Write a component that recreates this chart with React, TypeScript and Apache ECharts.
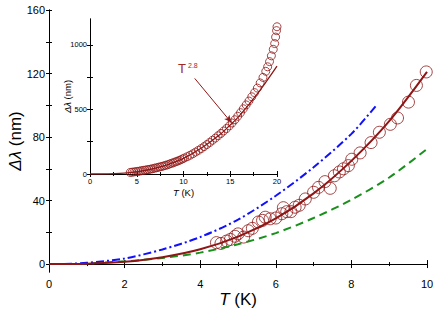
import React, { useEffect, useRef } from "react";
import * as echarts from "echarts";

// Main panel: measured points (T in K, Δλ in nm)
const mainT = [4.43, 4.55, 4.7, 4.8, 4.92, 5.0, 5.15, 5.27, 5.38, 5.54, 5.65, 5.72, 5.85, 6.0, 6.16, 6.2, 6.29, 6.4, 6.51, 6.62, 6.78, 7.0, 7.13, 7.3, 7.44, 7.55, 7.68, 7.79, 7.92, 8.01, 8.23, 8.52, 8.74, 9.03, 9.22, 9.51, 9.72, 9.98];
const mainDelta = [13.5, 13, 14.5, 15.5, 17.5, 19, 17, 21, 22.5, 26.5, 27.5, 29.5, 28.5, 29, 31.7, 35.5, 33, 33, 35.8, 37, 41, 45.2, 48.3, 51.9, 47.7, 55.6, 58, 60, 62, 66, 70, 76.5, 83, 88, 92, 102, 112.5, 121];

// Main panel: power-law fit (solid), and two model curves
const fitT = [0, 1, 2, 3, 4, 5, 6, 7, 8, 9, 10];
const fitDelta = [0, 0.2, 1.4, 4.3, 9.3, 17.3, 28.7, 44.5, 65, 90, 121];
const blueT = [0.4, 1, 2, 3, 4, 5, 6, 7, 8, 8.68];
const blueDelta = [0, 0.8, 3.5, 9.2, 17, 28, 43, 61, 82, 100.5];
const greenT = [0.8, 1, 2, 3, 4, 5, 6, 7, 8, 9, 10];
const greenDelta = [0, 0.3, 1.7, 3.8, 7.2, 12.5, 19.5, 29, 40.5, 54.5, 72.5];

// Inset: full temperature range
const insetT = [4.3, 4.5, 4.7, 4.9, 5.1, 5.3, 5.5, 5.7, 5.9, 6.1, 6.3, 6.5, 6.7, 6.9, 7.1, 7.3, 7.5, 7.7, 7.9, 8.1, 8.3, 8.5, 8.7, 8.9, 9.1, 9.3, 9.5, 9.7, 9.9, 10.1, 10.4, 10.7, 11.0, 11.3, 11.6, 11.9, 12.2, 12.5, 12.8, 13.1, 13.4, 13.7, 14.0, 14.3, 14.6, 14.9, 15.2, 15.5, 15.8, 16.1, 16.4, 16.7, 17.0, 17.3, 17.6, 17.9, 18.2, 18.5, 18.8, 19.0, 19.2, 19.4, 19.6, 19.75, 19.85, 19.95, 20.0];
const insetDelta = [12, 14, 16, 18, 20, 22, 26, 28, 30, 33, 35, 38, 41, 45, 48, 52, 55, 59, 63, 67, 72, 77, 82, 87, 93, 98, 104, 110, 117, 124, 134, 145, 157, 170, 183, 197, 212, 228, 244, 261, 278, 296, 314, 333, 352, 373, 395, 420, 447, 475, 505, 535, 565, 598, 630, 665, 705, 748, 795, 830, 870, 915, 965, 1010, 1060, 1110, 1140];
const insetFitT = [0, 2, 4, 6, 8, 10, 12, 14, 15, 16, 18, 20];
const insetFitDelta = [0, 1.5, 9, 29, 65, 121, 205, 312, 380, 452, 630, 835];

// Tick values
const mainYLabels = [0, 40, 80, 120, 160];
const mainYTicks = [0, 20, 40, 60, 80, 100, 120, 140, 160];
const insetYLabels = [0, 500, 1000];
const insetYTicks = [0, 250, 500, 750, 1000];

// Annotation arrow (inset data coordinates)
const arrowFrom = [11.2, 740];
const arrowTo = [15.1, 400];
const annotation = "T";
const annotationExp = "2.8";

const RED = "#8e1616";
const FONT = "'Liberation Sans', Arial, sans-serif";

const zip = (a: number[], b: number[]) => a.map((v, i) => [v, b[i]]);
const plain = (v: number) => String(v);

export default function App() {
  const ref = useRef<HTMLDivElement>(null);
  useEffect(() => {
    if (!ref.current) return;
    const chart = echarts.init(ref.current, null, { renderer: "svg" });
    const axisLine = { show: true, lineStyle: { color: "#000", width: 1 } };
    const option: any = {
      animation: false,
      backgroundColor: "#fff",
      textStyle: { fontFamily: FONT },
      grid: [
        { left: 49, right: 9, top: 10, bottom: 40, outerBoundsMode: "none" },
        { left: 90, right: 159, top: 19, bottom: 138, outerBoundsMode: "none" },
      ],
      xAxis: [
        {
          type: "value", gridIndex: 0, min: 0, max: 10, interval: 2, position: "bottom",
          axisLine, splitLine: { show: false },
          axisTick: { inside: true, length: 4, lineStyle: { color: "#000" } },
          minorTick: { show: true, splitNumber: 2, length: 2, lineStyle: { color: "#000" } },
          axisLabel: { fontSize: 11, color: "#000", margin: 6, fontFamily: FONT, formatter: plain },
          name: "{i|T} (K)", nameLocation: "middle", nameGap: 19, nameMoveOverlap: false,
          nameTextStyle: { fontSize: 17, color: "#000", fontFamily: FONT, rich: { i: { fontStyle: "italic", fontSize: 17, fontFamily: FONT } } },
        },
        {
          type: "value", gridIndex: 0, min: 0, max: 10, interval: 2, position: "top",
          axisLine, splitLine: { show: false },
          axisTick: { inside: true, length: 4, lineStyle: { color: "#000" } },
          minorTick: { show: true, splitNumber: 2, length: 2, lineStyle: { color: "#000" } },
          axisLabel: { show: false },
        },
        {
          type: "value", gridIndex: 1, min: 0, max: 20, interval: 5, position: "bottom",
          axisLine, splitLine: { show: false },
          axisTick: { inside: true, length: 3, lineStyle: { color: "#000" } },
          minorTick: { show: true, splitNumber: 2, length: 2, lineStyle: { color: "#000" } },
          axisLabel: { fontSize: 7.5, color: "#000", margin: 3, fontFamily: FONT, formatter: plain },
          name: "{i|T} (K)", nameLocation: "middle", nameGap: 13, nameMoveOverlap: false,
          nameTextStyle: { fontSize: 9.5, color: "#000", fontFamily: FONT, rich: { i: { fontStyle: "italic", fontSize: 9.5, fontFamily: FONT } } },
        },
        {
          type: "value", gridIndex: 1, min: 0, max: 20, interval: 5, position: "top",
          axisLine, splitLine: { show: false },
          axisTick: { inside: true, length: 3, lineStyle: { color: "#000" } },
          minorTick: { show: true, splitNumber: 2, length: 2, lineStyle: { color: "#000" } },
          axisLabel: { show: false },
        },
      ],
      yAxis: [
        {
          type: "value", gridIndex: 0, min: -5, max: 160, position: "left",
          axisLine, splitLine: { show: false },
          axisTick: { inside: true, length: 3, customValues: mainYTicks, lineStyle: { color: "#000" } },
          axisLabel: { fontSize: 11, color: "#000", margin: 4, customValues: mainYLabels, fontFamily: FONT, formatter: plain },
          name: "{i|Δλ} (nm)", nameLocation: "middle", nameGap: 25, nameMoveOverlap: false,
          nameTextStyle: { fontSize: 17, color: "#000", fontFamily: FONT, rich: { i: { fontStyle: "italic", fontSize: 17, fontFamily: FONT } } },
        },
        {
          type: "value", gridIndex: 0, min: -5, max: 160, position: "right",
          axisLine, splitLine: { show: false },
          axisTick: { inside: true, length: 3, customValues: mainYTicks, lineStyle: { color: "#000" } },
          axisLabel: { show: false },
        },
        {
          type: "value", gridIndex: 1, min: 0, max: 1200, position: "left",
          axisLine, splitLine: { show: false },
          axisTick: { inside: true, length: 3, customValues: insetYTicks, lineStyle: { color: "#000" } },
          axisLabel: { fontSize: 7.5, color: "#000", margin: 3, customValues: insetYLabels, fontFamily: FONT, formatter: plain },
          name: "{i|Δλ} (nm)", nameLocation: "middle", nameGap: 18, nameMoveOverlap: false,
          nameTextStyle: { fontSize: 9.5, color: "#000", fontFamily: FONT, rich: { i: { fontStyle: "italic", fontSize: 9.5, fontFamily: FONT } } },
        },
        {
          type: "value", gridIndex: 1, min: 0, max: 1200, position: "right",
          axisLine, splitLine: { show: false },
          axisTick: { inside: true, length: 3, customValues: insetYTicks, lineStyle: { color: "#000" } },
          axisLabel: { show: false },
        },
      ],
      series: [
        {
          type: "scatter", xAxisIndex: 0, yAxisIndex: 0, data: zip(mainT, mainDelta),
          symbol: "circle", symbolSize: 12,
          itemStyle: { color: "rgba(0,0,0,0)", borderColor: RED, borderWidth: 1 },
        },
        {
          type: "line", xAxisIndex: 0, yAxisIndex: 0, data: zip(greenT, greenDelta),
          showSymbol: false, smooth: 0.3,
          lineStyle: { color: "#19901c", width: 2, type: [8, 5] },
        },
        {
          type: "line", xAxisIndex: 0, yAxisIndex: 0, data: zip(blueT, blueDelta),
          showSymbol: false, smooth: 0.3,
          lineStyle: { color: "#1010ff", width: 2, type: [8, 3, 2, 3] },
        },
        {
          type: "line", xAxisIndex: 0, yAxisIndex: 0, data: zip(fitT, fitDelta),
          showSymbol: false, smooth: 0.3,
          lineStyle: { color: RED, width: 2 },
        },
        {
          type: "scatter", xAxisIndex: 2, yAxisIndex: 2, data: zip(insetT, insetDelta),
          symbol: "circle", symbolSize: 8,
          itemStyle: { color: "rgba(0,0,0,0)", borderColor: RED, borderWidth: 1 },
        },
        {
          type: "line", xAxisIndex: 2, yAxisIndex: 2, data: zip(insetFitT, insetFitDelta),
          showSymbol: false, smooth: 0.3,
          lineStyle: { color: RED, width: 1.3 },
          markLine: {
            silent: true, symbol: ["none", "arrow"], symbolSize: [5, 7],
            label: { show: false },
            lineStyle: { color: RED, width: 1, type: "solid" },
            data: [[{ coord: arrowFrom }, { coord: arrowTo }]],
          },
        },
      ],
      graphic: [
        {
          type: "text", left: 178, top: 62,
          style: { text: annotation, fontSize: 13, fill: "#a02a2a", fontFamily: FONT },
        },
        {
          type: "text", left: 188, top: 62,
          style: { text: annotationExp, fontSize: 7, fill: "#a02a2a", fontFamily: FONT },
        },
      ],
    };
    chart.setOption(option);
    return () => chart.dispose();
  }, []);
  return (
    <div
      ref={ref}
      style={{ position: "fixed", left: 0, top: 0, width: 436, height: 312, background: "#fff" }}
    />
  );
}
